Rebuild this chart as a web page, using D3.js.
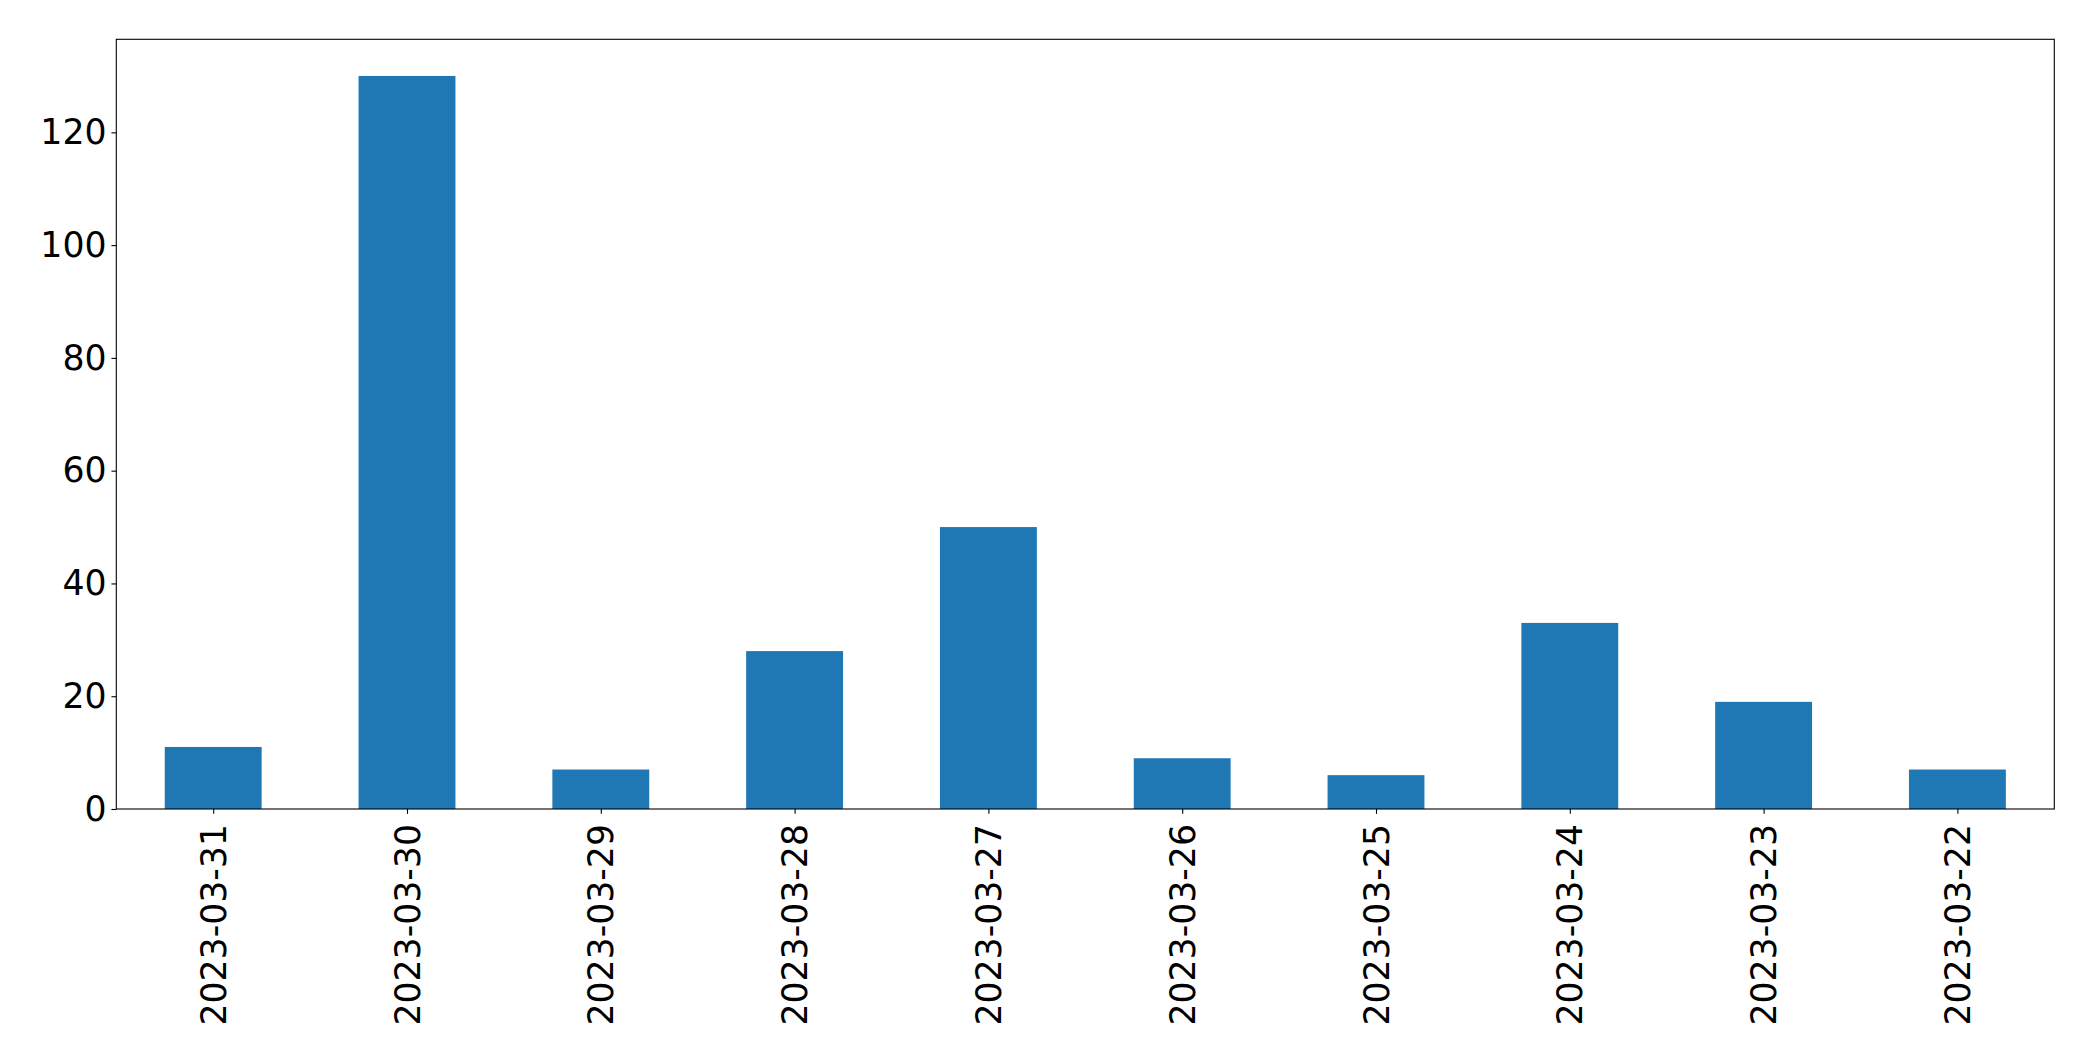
<!DOCTYPE html>
<html>
<head>
<meta charset="utf-8">
<script src="https://cdn.jsdelivr.net/npm/d3@7"></script>
<style>
  body { margin: 0; background: #fff; }
  svg { display: block; }
  text { font-family: "DejaVu Sans", sans-serif; }
</style>
</head>
<body>
<svg id="chart" width="2093" height="1061"></svg>
<script>
const categories = ["2023-03-31","2023-03-30","2023-03-29","2023-03-28","2023-03-27","2023-03-26","2023-03-25","2023-03-24","2023-03-23","2023-03-22"];
const values = [11, 130, 7, 28, 50, 9, 6, 33, 19, 7];
const yTicks = [0, 20, 40, 60, 80, 100, 120];

const W = 2093, H = 1061;
const m = { left: 116.3, right: 2054.3, top: 39.3, bottom: 809 };
const fontSize = 34.7;
const svg = d3.select("#chart");

const x = d3.scaleLinear().domain([-0.5, categories.length - 0.5]).range([m.left, m.right]);
const y = d3.scaleLinear().domain([0, d3.max(values) * 1.05]).range([m.bottom, m.top]);

// bars
svg.append("g").selectAll("rect").data(values).join("rect")
  .attr("x", (d, i) => x(i - 0.25))
  .attr("width", (d, i) => x(i + 0.25) - x(i - 0.25))
  .attr("y", d => y(d))
  .attr("height", d => y(0) - y(d))
  .attr("fill", "#1f77b4");

// y axis
const yAxis = d3.axisLeft(y).tickValues(yTicks).tickSize(4.86).tickPadding(4.86).tickFormat(d3.format("d"));
const gy = svg.append("g").attr("transform", `translate(${m.left},0)`).call(yAxis);
gy.select(".domain").remove();
gy.selectAll(".tick line").attr("stroke", "#000").attr("stroke-width", 1.1);
gy.selectAll(".tick text").attr("font-size", fontSize).attr("fill", "#000").attr("font-family", "DejaVu Sans");

// x axis
const xAxis = d3.axisBottom(x).tickValues(d3.range(categories.length)).tickSize(4.86).tickPadding(0).tickFormat(i => categories[i]);
const gx = svg.append("g").attr("transform", `translate(0,${m.bottom})`).call(xAxis);
gx.select(".domain").remove();
gx.selectAll(".tick line").attr("stroke", "#000").attr("stroke-width", 1.1);
gx.selectAll(".tick text")
  .attr("font-size", fontSize).attr("fill", "#000").attr("font-family", "DejaVu Sans")
  .attr("text-anchor", "end")
  .attr("transform", "rotate(-90)")
  .attr("x", -15)
  .attr("y", 0)
  .attr("dy", "0.35em");

// frame
svg.append("rect")
  .attr("x", m.left).attr("y", m.top)
  .attr("width", m.right - m.left).attr("height", m.bottom - m.top)
  .attr("fill", "none").attr("stroke", "#000").attr("stroke-width", 1.1);
</script>
</body>
</html>
